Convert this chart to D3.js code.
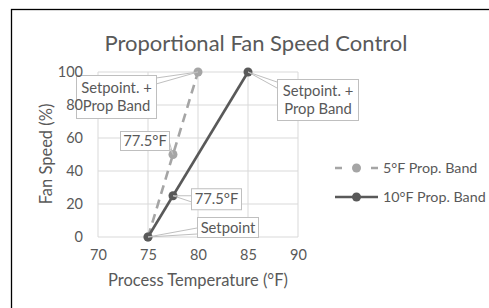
<!doctype html>
<html lang="en">
<head>
    <meta charset="utf-8">
    <title>Proportional Fan Speed Control</title>
    <style type="text/css">
        html, body {
            margin: 0;
            width: 100%;
            height: 100%;
            background-color: #fff;
            overflow: hidden;
        }
        svg text {
            font-family: Lato, "Open Sans", sans-serif;
            fill: #595959;
        }
    </style>
</head>
<body>
    <svg id="chart" width="489" height="308"></svg>

    <script src="https://cdn.jsdelivr.net/npm/d3@7"></script>
    <script>
        // data
        const temps5 = [75, 77.5, 80];
        const speeds5 = [0, 50, 100];
        const labels5 = [null, ["77.5°F"], ["Setpoint. +", "Prop Band"]];

        const temps10 = [75, 77.5, 85];
        const speeds10 = [0, 25, 100];
        const labels10 = [["Setpoint"], ["77.5°F"], ["Setpoint. +", "Prop Band"]];

        const xTicks = [70, 75, 80, 85, 90];
        const yTicks = [0, 20, 40, 60, 80, 100];
        const seriesNames = ["5°F Prop. Band", "10°F Prop. Band"];

        let svg = d3.select("#chart");

        // frame
        svg.append("rect")
            .attr("x", 11.5).attr("y", 9.5)
            .attr("width", 500).attr("height", 320)
            .attr("fill", "#fff")
            .attr("stroke", "#000")
            .attr("stroke-width", 1.3);

        svg.append("text")
            .attr("x", 256).attr("y", 51)
            .attr("text-anchor", "middle")
            .attr("font-size", 22)
            .text("Proportional Fan Speed Control");

        let x = d3.scaleLinear().domain([70, 90]).range([98, 298]);
        let y = d3.scaleLinear().domain([0, 100]).range([237, 72]);

        // grid
        let grid = svg.append("g");
        grid.selectAll(".gx").data(xTicks).enter().append("line")
            .attr("x1", d => x(d)).attr("x2", d => x(d))
            .attr("y1", y(0)).attr("y2", y(100))
            .attr("stroke", "#d9d9d9").attr("stroke-width", 1);
        grid.selectAll(".gy").data(yTicks).enter().append("line")
            .attr("x1", x(70)).attr("x2", x(90))
            .attr("y1", d => y(d)).attr("y2", d => y(d))
            .attr("stroke", "#d9d9d9").attr("stroke-width", 1);

        svg.append("text")
            .attr("x", 198).attr("y", 286)
            .attr("text-anchor", "middle")
            .attr("font-size", 16.5)
            .text("Process Temperature (°F)");
        svg.append("text")
            .attr("transform", "translate(52,154) rotate(-90)")
            .attr("text-anchor", "middle")
            .attr("font-size", 16.5)
            .text("Fan Speed (%)");

        let series = [
            { name: seriesNames[0], pts: temps5.map((t, i) => ({ t: t, s: speeds5[i], label: labels5[i] })), color: "#a5a5a5", dash: "9,6" },
            { name: seriesNames[1], pts: temps10.map((t, i) => ({ t: t, s: speeds10[i], label: labels10[i] })), color: "#595959", dash: null }
        ];

        let line = d3.line().x(d => x(d.t)).y(d => y(d.s));

        series.forEach(s => {
            svg.append("path")
                .attr("d", line(s.pts))
                .attr("fill", "none")
                .attr("stroke", s.color)
                .attr("stroke-width", 2.6)
                .attr("stroke-dasharray", s.dash);
            svg.selectAll(null).data(s.pts).enter().append("circle")
                .attr("cx", d => x(d.t)).attr("cy", d => y(d.s))
                .attr("r", 4.5)
                .attr("fill", s.color);
        });

        // callout boxes: offsets from the point they point to
        let callouts = [
            { p: series[0].pts[2], dx: -122, dy: 3, w: 80, h: 43, side: "right" },
            { p: series[0].pts[1], dx: -53, dy: -23.5, w: 49, h: 19, side: "right" },
            { p: series[1].pts[1], dx: 18, dy: -7.5, w: 50, h: 21, side: "left" },
            { p: series[1].pts[0], dx: 49, dy: -20, w: 61, h: 20, side: "left" },
            { p: series[1].pts[2], dx: 29, dy: 7, w: 81, h: 41, side: "left" }
        ];

        let boxes = svg.append("g");
        callouts.forEach(c => {
            let px = x(c.p.t), py = y(c.p.s);
            let bx = px + c.dx, by = py + c.dy;
            let ex = c.side === "right" ? bx + c.w : bx;
            let ya = Math.min(Math.max(py, by + 3), by + c.h - 9);
            boxes.append("polyline")
                .attr("points", `${ex},${ya} ${px},${py} ${ex},${ya + 6}`)
                .attr("fill", "none")
                .attr("stroke", "#bfbfbf")
                .attr("stroke-width", 1);
            boxes.append("rect")
                .attr("x", bx + 0.5).attr("y", by + 0.5)
                .attr("width", c.w).attr("height", c.h)
                .attr("fill", "#fff")
                .attr("stroke", "#bfbfbf")
                .attr("stroke-width", 1);
            let lines = c.p.label;
            let t = boxes.append("text")
                .attr("text-anchor", "middle")
                .attr("font-size", 14.8);
            lines.forEach((l, i) => {
                t.append("tspan")
                    .attr("x", bx + c.w / 2 + 0.5)
                    .attr("y", by + c.h / 2 + 5.5 + (i - (lines.length - 1) / 2) * 18)
                    .text(l);
            });
        });

        // axes (labels only), drawn over the callouts
        let xAxis = svg.append("g")
            .attr("transform", `translate(0,${y(0) + 7})`)
            .call(d3.axisBottom(x).tickValues(xTicks).tickSize(0).tickPadding(6));
        let yAxis = svg.append("g")
            .attr("transform", `translate(${x(70) - 9},0)`)
            .call(d3.axisLeft(y).tickValues(yTicks).tickSize(0).tickPadding(6));
        [xAxis, yAxis].forEach(a => {
            a.select(".domain").remove();
            a.selectAll("text")
                .attr("font-size", 14.5)
                .attr("font-family", "Lato, sans-serif")
                .attr("fill", "#595959");
        });

        // legend
        let legend = svg.append("g");
        series.forEach((s, i) => {
            let ly = 168 + i * 29;
            legend.append("line")
                .attr("x1", 335).attr("x2", 378)
                .attr("y1", ly).attr("y2", ly)
                .attr("stroke", s.color)
                .attr("stroke-width", 2.6)
                .attr("stroke-dasharray", s.dash ? "7,29,7" : null);
            legend.append("circle")
                .attr("cx", 356.5).attr("cy", ly).attr("r", 4.5)
                .attr("fill", s.color);
            legend.append("text")
                .attr("x", 383).attr("y", ly + 5)
                .attr("font-size", 14.3)
                .text(s.name);
        });
    </script>
</body>
</html>
